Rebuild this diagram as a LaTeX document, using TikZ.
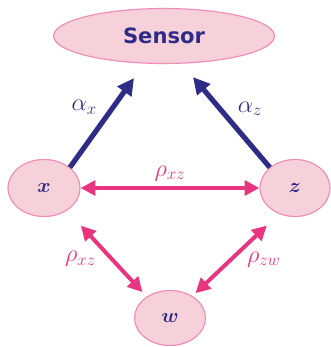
\documentclass[tikz,border=0pt]{standalone}
\usepackage{amsmath, amssymb, bm}
\usepackage{fontspec}
\newfontfamily\sensorfont{DejaVu Sans}
\usepackage{tikz}
\usetikzlibrary{shapes.geometric, arrows.meta}

\definecolor{navyblue}{HTML}{2E2C86}
\definecolor{hotpink}{HTML}{E8357F}
\definecolor{blobfill}{HTML}{F7D1D9}
\definecolor{blobline}{HTML}{EF8DB8}

\begin{document}
\begin{tikzpicture}[
        blob/.style={ellipse, draw=blobline, fill=blobfill, line width=1pt, inner sep=0pt, text=navyblue},
        link/.style={-{Triangle[length=0.5cm, width=0.5cm]}, draw=navyblue, line width=4.4pt},
        corr/.style={{Triangle[length=0.44cm, width=0.44cm]}-{Triangle[length=0.44cm, width=0.44cm]}, draw=hotpink, line width=3.4pt},
        lab/.style={font=\fontsize{20}{22}\selectfont},
    ]
        \useasboundingbox (0,0) rectangle (9.93,-10.41);

        \node[blob, minimum width=6.63cm, minimum height=1.65cm] (sensor) at (4.92,-1.08) {\sensorfont\bfseries\fontsize{18}{20}\selectfont Sensor};
        \node[blob, minimum width=2.16cm, minimum height=1.71cm] (x) at (1.32,-5.64) {\fontsize{17}{18}\selectfont$\bm{x}$};
        \node[blob, minimum width=2.10cm, minimum height=1.71cm] (z) at (8.85,-5.64) {\fontsize{17}{18}\selectfont$\bm{z}$};
        \node[blob, minimum width=2.13cm, minimum height=1.65cm] (w) at (5.10,-9.54) {\fontsize{17}{18}\selectfont$\bm{w}$};

        % effects on the sensor
        \draw[link] (x.north east) -- node[lab, text=navyblue, pos=0.52, above left] {$\alpha_x$} ([shift={(-0.9,-0.42)}]sensor.south);
        \draw[link] (z.north west) -- node[lab, text=navyblue, pos=0.5, above right] {$\alpha_z$} ([shift={(0.87,-0.39)}]sensor.south);

        % correlations
        \draw[corr] (x.east) -- node[lab, text=hotpink, above=1pt] {$\rho_{xz}$} (z.west);
        \draw[corr] ([shift={(0.33,-0.51)}]x.south east) -- node[lab, text=hotpink, pos=0.5, left=0.3cm] {$\rho_{xz}$} ([shift={(-0.06,0.18)}]w.north west);
        \draw[corr] ([shift={(-0.09,-0.51)}]z.south west) -- node[lab, text=hotpink, pos=0.5, right=0.3cm] {$\rho_{zw}$} ([shift={(0,0.15)}]w.north east);
\end{tikzpicture}
\end{document}
